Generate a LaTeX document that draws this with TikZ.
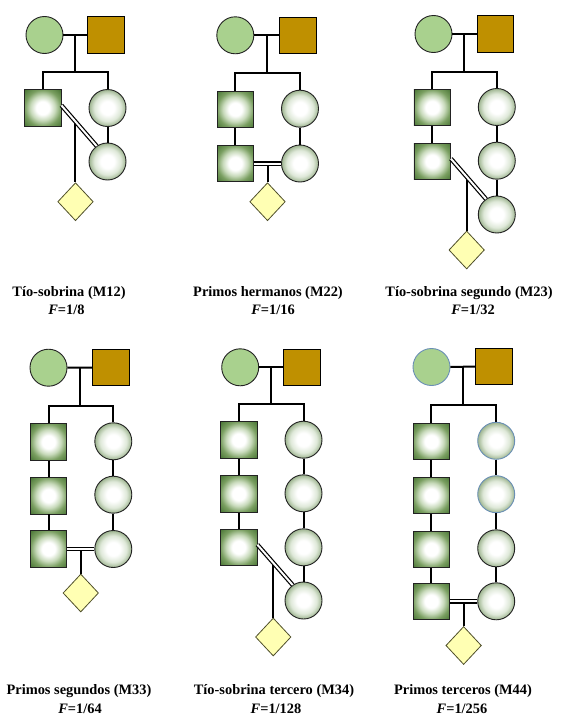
\documentclass[tikz,border=0pt]{standalone}
\usepackage{fontspec}
\setmainfont{Liberation Serif}
\usetikzlibrary{shapes.geometric,calc}

\definecolor{fcirc}{HTML}{A9D18E}
\definecolor{fsq}{HTML}{BF9000}
\definecolor{sqmid}{HTML}{C8DABB}
\definecolor{sqedge}{HTML}{7A9F61}
\definecolor{sqdark}{HTML}{4A7636}
\definecolor{cmid}{HTML}{DEE8D8}
\definecolor{cedge}{HTML}{9DB48F}
\definecolor{diafill}{HTML}{FFFFB3}
\definecolor{diaedge}{HTML}{4F4F2A}
\definecolor{blueedge}{HTML}{6A8FB5}
\definecolor{outl}{HTML}{222222}

\pgfdeclareradialshading{sqshade}{\pgfpoint{0bp}{0bp}}{color(0bp)=(white); color(9bp)=(white); color(17bp)=(sqmid); color(25bp)=(sqedge); color(35bp)=(sqdark); color(50bp)=(sqdark)}
\pgfdeclareradialshading{cshade}{\pgfpoint{0bp}{0bp}}{color(0bp)=(white); color(9bp)=(white); color(18bp)=(cmid); color(25bp)=(cedge); color(50bp)=(cedge)}

\tikzset{
  conn/.style={draw=black, line width=2pt, line join=miter},
  dbl/.style={draw=black, line width=1.2pt, double=white, double distance=2pt},
  fnd/.style={circle, draw=outl, line width=0.9pt, fill=fcirc, minimum size=37pt, inner sep=0pt},
  fsqr/.style={rectangle, draw=black, line width=0.9pt, fill=fsq, minimum size=36.5pt, inner sep=0pt},
  ksq/.style={rectangle, draw=outl, line width=0.9pt, shading=sqshade, minimum size=36.5pt, inner sep=0pt},
  kci/.style={circle, draw=outl, line width=0.9pt, shading=cshade, minimum size=37pt, inner sep=0pt},
  blue/.style={draw=blueedge},
  dia/.style={diamond, draw=diaedge, line width=0.8pt, fill=diafill, minimum width=35.5pt, minimum height=38pt, inner sep=0pt},
  lab/.style={font=\fontsize{14.4}{17}\selectfont\bfseries, inner sep=0pt},
}

\begin{document}
\begin{tikzpicture}[x=1pt, y=-1pt]
\fill[white] (0,0) rectangle (567,720);
\useasboundingbox (0,0) rectangle (567,720);

% ---------- Panel 1: Tio-sobrina (M12)
\node[fnd] (aM) at (44.5,35) {};
\node[fsqr] (aF) at (106,35) {};
\coordinate (aJ) at ($(aM.east)!0.5!(aF.west)$);
\node[ksq] (a1) at (42.7,108) {};
\node[kci] (a2) at (107.5,108) {};
\node[kci] (a3) at (107.5,161.5) {};
\draw[conn] (aM.east) -- (aF.west);
\draw[conn] (aJ) -- (aJ |- 0,72);
\draw[conn] (a1.north) -- (a1.north |- 0,72) -- (a2.north |- 0,72) -- (a2.north);
\draw[conn] (a2) -- (a3);
\coordinate (aX) at ($(a1.8)!0.40!(a3.125)$);
\node[dia] (aD) at (aX |- 0,201.7) {};
\draw[conn] (aX) -- (aD.north);
\draw[dbl] (a1.8) -- (a3.125);

% ---------- Panel 2: Primos hermanos (M22)
\node[fnd] (bM) at (235.3,35.3) {};
\node[fsqr] (bF) at (297.7,35.3) {};
\coordinate (bJ) at ($(bM.east)!0.5!(bF.west)$);
\node[ksq] (b1) at (235.3,109.3) {};
\node[kci] (b2) at (300,108.7) {};
\node[ksq] (b3) at (235.3,163.5) {};
\node[kci] (b4) at (300,163.5) {};
\draw[conn] (bM.east) -- (bF.west);
\draw[conn] (bJ) -- (bJ |- 0,72.7);
\draw[conn] (b1.north) -- (b1.north |- 0,72.7) -- (b2.north |- 0,72.7) -- (b2.north);
\draw[conn] (b1) -- (b3);
\draw[conn] (b2) -- (b4);
\coordinate (bX) at ($(b3.east)!0.5!(b4.west)$);
\node[dia] (bD) at (bX |- 0,201.7) {};
\draw[conn] (bX) -- (bD.north);
\draw[dbl] (b3.east) -- (b4.west);

% ---------- Panel 3: Tio-sobrina segundo (M23)
\node[fnd] (cM) at (433.5,34) {};
\node[fsqr] (cF) at (495.2,34) {};
\coordinate (cJ) at ($(cM.east)!0.5!(cF.west)$);
\node[ksq] (c1) at (432.2,107.5) {};
\node[ksq] (c2) at (432.2,161.3) {};
\node[kci] (c3) at (496.8,107) {};
\node[kci] (c4) at (496.8,160.7) {};
\node[kci] (c5) at (496.8,214.5) {};
\draw[conn] (cM.east) -- (cF.west);
\draw[conn] (cJ) -- (cJ |- 0,71.7);
\draw[conn] (c1.north) -- (c1.north |- 0,71.7) -- (c3.north |- 0,71.7) -- (c3.north);
\draw[conn] (c1) -- (c2);
\draw[conn] (c3) -- (c4);
\draw[conn] (c4) -- (c5);
\coordinate (cX) at ($(c2.8)!0.45!(c5.125)$);
\node[dia] (cD) at (cX |- 0,250) {};
\draw[conn] (cX) -- (cD.north);
\draw[dbl] (c2.8) -- (c5.125);

% ---------- Panel 4: Primos segundos (M33)
\node[fnd] (dM) at (48.5,367.7) {};
\node[fsqr] (dF) at (111,367.5) {};
\coordinate (dJ) at ($(dM.east)!0.5!(dF.west)$);
\node[ksq] (d1) at (48.5,442) {};
\node[ksq] (d2) at (48.5,495.7) {};
\node[ksq] (d3) at (48.5,549) {};
\node[kci] (d4) at (113.3,441.3) {};
\node[kci] (d5) at (113.3,494.7) {};
\node[kci] (d6) at (113.3,549) {};
\draw[conn] (dM.east) -- (dF.west);
\draw[conn] (dJ) -- (dJ |- 0,406);
\draw[conn] (d1.north) -- (d1.north |- 0,406) -- (d4.north |- 0,406) -- (d4.north);
\draw[conn] (d1) -- (d2);
\draw[conn] (d2) -- (d3);
\draw[conn] (d4) -- (d5);
\draw[conn] (d5) -- (d6);
\coordinate (dX) at ($(d3.east)!0.5!(d6.west)$);
\node[dia] (dD) at (dX |- 0,593) {};
\draw[conn] (dX) -- (dD.north);
\draw[dbl] (d3.east) -- (d6.west);

% ---------- Panel 5: Tio-sobrina tercero (M34)
\node[fnd] (eM) at (240.2,367.3) {};
\node[fsqr] (eF) at (301.8,367.3) {};
\coordinate (eJ) at ($(eM.east)!0.5!(eF.west)$);
\node[ksq] (e1) at (238.7,440) {};
\node[ksq] (e2) at (238.7,493.8) {};
\node[ksq] (e3) at (238.7,547.3) {};
\node[kci] (e4) at (303.5,439.7) {};
\node[kci] (e5) at (303.5,493.3) {};
\node[kci] (e6) at (303.5,547.3) {};
\node[kci] (e7) at (303.5,600.5) {};
\draw[conn] (eM.east) -- (eF.west);
\draw[conn] (eJ) -- (eJ |- 0,404);
\draw[conn] (e1.north) -- (e1.north |- 0,404) -- (e4.north |- 0,404) -- (e4.north);
\draw[conn] (e1) -- (e2);
\draw[conn] (e2) -- (e3);
\draw[conn] (e4) -- (e5);
\draw[conn] (e5) -- (e6);
\draw[conn] (e6) -- (e7);
\coordinate (eX) at ($(e3.8)!0.45!(e7.125)$);
\node[dia] (eD) at (eX |- 0,637) {};
\draw[conn] (eX) -- (eD.north);
\draw[dbl] (e3.8) -- (e7.125);

% ---------- Panel 6: Primos terceros (M44)
\node[fnd, blue] (fM) at (431.5,367) {};
\node[fsqr] (fF) at (493.8,366.5) {};
\coordinate (fJ) at ($(fM.east)!0.5!(fF.west)$);
\node[ksq] (f1) at (431.3,441.5) {};
\node[ksq] (f2) at (431.3,495.3) {};
\node[ksq] (f3) at (431.3,549.3) {};
\node[ksq] (f4) at (431.3,601.3) {};
\node[kci, blue] (f5) at (496.2,440.8) {};
\node[kci, blue] (f6) at (496.2,494.2) {};
\node[kci] (f7) at (496.2,548.3) {};
\node[kci] (f8) at (496.2,601.3) {};
\draw[conn] (fM.east) -- (fF.west);
\draw[conn] (fJ) -- (fJ |- 0,405);
\draw[conn] (f1.north) -- (f1.north |- 0,405) -- (f5.north |- 0,405) -- (f5.north);
\draw[conn] (f1) -- (f2);
\draw[conn] (f2) -- (f3);
\draw[conn] (f3) -- (f4);
\draw[conn] (f5) -- (f6);
\draw[conn] (f6) -- (f7);
\draw[conn] (f7) -- (f8);
\coordinate (fX) at ($(f4.east)!0.5!(f8.west)$);
\node[dia] (fD) at (fX |- 0,645.5) {};
\draw[conn] (fX) -- (fD.north);
\draw[dbl] (f4.east) -- (f8.west);

% ---------- Labels
\node[lab] (l1) at (69,293) {Tío-sobrina (M12)};
\node[lab] (l1f) at (66.5,310) {\textit{F}=1/8};
\node[lab] (l2) at (268,293) {Primos hermanos (M22)};
\node[lab] (l2f) at (273,310) {\textit{F}=1/16};
\node[lab] (l3) at (469,293) {Tío-sobrina segundo (M23)};
\node[lab] (l3f) at (473,310) {\textit{F}=1/32};
\node[lab] (l4) at (79,691) {Primos segundos (M33)};
\node[lab] (l4f) at (80,709) {\textit{F}=1/64};
\node[lab] (l5) at (274,691) {Tío-sobrina tercero (M34)};
\node[lab] (l5f) at (276,709) {\textit{F}=1/128};
\node[lab] (l6) at (463,691) {Primos terceros (M44)};
\node[lab] (l6f) at (462,709) {\textit{F}=1/256};
\end{tikzpicture}
\end{document}
